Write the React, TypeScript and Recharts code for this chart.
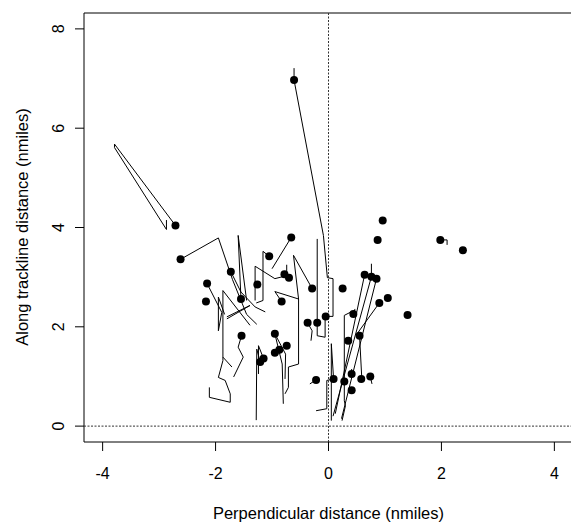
import React from 'react';
import { ScatterChart, Scatter, XAxis, YAxis, ReferenceLine, ReferenceArea } from 'recharts';

const xTicks = [-4, -2, 0, 2, 4];
const yTicks = [0, 2, 4, 6, 8];

// sighting positions (perpendicular, along trackline) in nmiles
const sightX = [
  -2.71, -2.62, -0.61, -0.66, -2.15, -2.17, -1.73, -1.26, -1.55, -1.54,
  -1.05, -0.78, -0.7, -0.29, -0.83, -0.37, -0.2, -0.05, -0.95, -0.74,
  -0.95, -0.87, -1.15, -1.21, -0.22, 0.09, 0.28, 0.25, 0.35, 0.55,
  0.41, 0.58, 0.74, 0.41, 0.96, 0.87, 1.98, 2.38, 0.64, 0.76,
  0.85, 1.05, 0.9, 1.4, 0.44,
];
const sightY = [
  4.04, 3.36, 6.97, 3.8, 2.87, 2.51, 3.11, 2.85, 2.56, 1.82,
  3.42, 3.06, 2.99, 2.77, 2.51, 2.08, 2.08, 2.21, 1.86, 1.62,
  1.48, 1.54, 1.36, 1.29, 0.93, 0.95, 0.9, 2.77, 1.72, 1.82,
  1.05, 0.95, 1.0, 0.72, 4.14, 3.75, 3.75, 3.54, 3.05, 3.01,
  2.97, 2.58, 2.48, 2.24, 2.26,
];

// animal tracks, each a list of [perpendicular, along] positions
const tracks: number[][][] = [
  [[-2.71, 4.04], [-3.79, 5.68], [-3.79, 5.61], [-2.87, 3.96], [-2.87, 4.15]],
  [[-0.61, 6.97], [-0.61, 7.21]],
  [[-0.61, 6.97], [-0.09, 3.84], [-0.02, 2.99], [0.08, 2.97], [0.08, 2.21], [-0.05, 2.21]],
  [[-0.2, 2.08], [-0.2, 3.77]],
  [[-2.62, 3.36], [-1.95, 3.79], [-1.7, 2.95], [-1.45, 2.25], [-1.27, 2.05]],
  [[-1.55, 2.56], [-1.6, 3.84], [-1.45, 2.53]],
  [[-0.66, 3.8], [-1.0, 3.17]],
  [[-1.05, 3.42], [-1.16, 3.52], [-1.16, 2.53], [-1.28, 2.48]],
  [[-0.74, 3.03], [-0.95, 2.97], [-1.3, 3.22], [-1.3, 2.53]],
  [[-0.74, 3.03], [-0.74, 3.25]],
  [[-0.29, 2.77], [-0.62, 3.44], [-0.53, 2.56], [-0.53, 1.25], [-0.71, 1.19], [-0.71, 0.78], [-0.77, 0.65]],
  [[-0.83, 2.51], [-0.95, 2.71], [-0.53, 2.56]],
  [[-0.95, 1.86], [-0.82, 1.25], [-0.8, 0.45]],
  [[-0.95, 1.86], [-0.76, 1.45], [-0.77, 0.95]],
  [[-1.73, 3.11], [-1.55, 2.7], [-1.3, 2.4], [-1.12, 2.3]],
  [[-2.15, 2.87], [-1.89, 2.29], [-1.95, 1.92], [-1.95, 2.6], [-1.84, 2.25]],
  [[-1.39, 2.03], [-1.87, 2.73], [-1.87, 1.32], [-1.95, 0.98], [-1.83, 0.92], [-1.74, 0.65], [-1.74, 0.48], [-2.11, 0.58], [-2.11, 0.78]],
  [[-1.8, 2.16], [-1.39, 2.43], [-1.8, 2.2]],
  [[-1.54, 1.82], [-1.6, 1.59], [-1.51, 1.39], [-1.68, 0.99]],
  [[-1.87, 1.39], [-1.71, 1.19]],
  [[-1.21, 1.29], [-1.27, 1.55], [-1.28, 0.12]],
  [[-1.15, 1.36], [-1.24, 1.62], [-1.24, 1.05]],
  [[-0.22, 0.93], [-0.33, 0.85]],
  [[0.09, 0.95], [0.05, 1.66], [0.05, 0.11]],
  [[0.09, 0.95], [-0.03, 0.92], [-0.03, 0.35], [-0.22, 0.31]],
  [[0.28, 0.9], [0.28, 2.23], [0.4, 2.3]],
  [[0.28, 0.9], [0.28, 0.51], [0.3, 0.41], [0.24, 0.11]],
  [[0.64, 3.05], [0.12, 0.25]],
  [[0.76, 3.01], [0.08, 0.2]],
  [[0.76, 3.01], [0.76, 3.27]],
  [[0.85, 2.97], [0.23, 0.15]],
  [[0.9, 2.48], [0.5, 1.85]],
  [[0.44, 2.26], [0.47, 2.36]],
  [[0.55, 1.82], [0.59, 0.95]],
  [[0.74, 1.0], [0.77, 0.85]],
  [[1.98, 3.75], [2.1, 3.75], [2.1, 3.65]],
  [[0.41, 1.05], [0.41, 1.15]],
  [[-0.37, 2.08], [-0.29, 1.92], [-0.31, 1.72]],
  [[-0.2, 2.08], [-0.2, 1.82], [-0.06, 1.79], [-0.06, 2.19]],
];

const sightings = sightX.map((x, i) => ({ x, y: sightY[i] }));
const trackData = tracks.map((t) => t.map(([x, y]) => ({ x, y })));

const FONT = '"Liberation Sans", Arial, Helvetica, sans-serif';

const noShape = () => <g />;
const dotShape = (p: any) => <circle cx={p.cx} cy={p.cy} r={4} fill="#000" />;

const XTick = ({ x, payload }: any) => (
  <text x={x} y={473} textAnchor="middle" dominantBaseline="central" fontSize={16} fontFamily={FONT} fill="#000">
    {payload.value}
  </text>
);

const YTick = ({ y, payload }: any) => (
  <text transform={`translate(58, ${y}) rotate(-90)`} textAnchor="middle" dominantBaseline="central" fontSize={16} fontFamily={FONT} fill="#000">
    {payload.value}
  </text>
);

const XTitle = () => (
  <text x={328.5} y={513} textAnchor="middle" dominantBaseline="central" fontSize={16.5} fontFamily={FONT} fill="#000">
    Perpendicular distance (nmiles)
  </text>
);

const YTitle = () => (
  <text transform="translate(22, 227) rotate(-90)" textAnchor="middle" dominantBaseline="central" fontSize={16.5} fontFamily={FONT} fill="#000">
    Along trackline distance (nmiles)
  </text>
);

export default function App() {
  return (
    <div style={{ position: 'absolute', left: 0, top: 0, width: 571, height: 523, overflow: 'hidden', background: '#fff' }}>
      <ScatterChart width={573} height={523} margin={{ top: 13, right: 0, bottom: 21, left: 0 }}>
        <XAxis
          type="number"
          dataKey="x"
          domain={[-4.33, 4.33]}
          ticks={xTicks}
          allowDataOverflow
          axisLine={false}
          tickLine={{ stroke: '#000' }}
          tickSize={9}
          height={60}
          tick={<XTick />}
          label={<XTitle />}
        />
        <YAxis
          type="number"
          dataKey="y"
          domain={[-0.32, 8.32]}
          ticks={yTicks}
          allowDataOverflow
          axisLine={false}
          tickLine={{ stroke: '#000' }}
          tickSize={9}
          width={84}
          tick={<YTick />}
          label={<YTitle />}
        />
        <ReferenceArea x1={-4.33} x2={4.33} y1={-0.32} y2={8.32} stroke="#000" strokeWidth={1} fill="none" fillOpacity={0} />
        <ReferenceLine x={0} stroke="#333" strokeDasharray="2 1.5" />
        <ReferenceLine y={0} stroke="#333" strokeDasharray="2 1.5" />
        {trackData.map((t, i) => (
          <Scatter
            key={`track-${i}`}
            data={t}
            line={{ stroke: '#000', strokeWidth: 1 }}
            lineType="joint"
            shape={noShape}
            isAnimationActive={false}
          />
        ))}
        <Scatter data={sightings} shape={dotShape} isAnimationActive={false} />
      </ScatterChart>
    </div>
  );
}
